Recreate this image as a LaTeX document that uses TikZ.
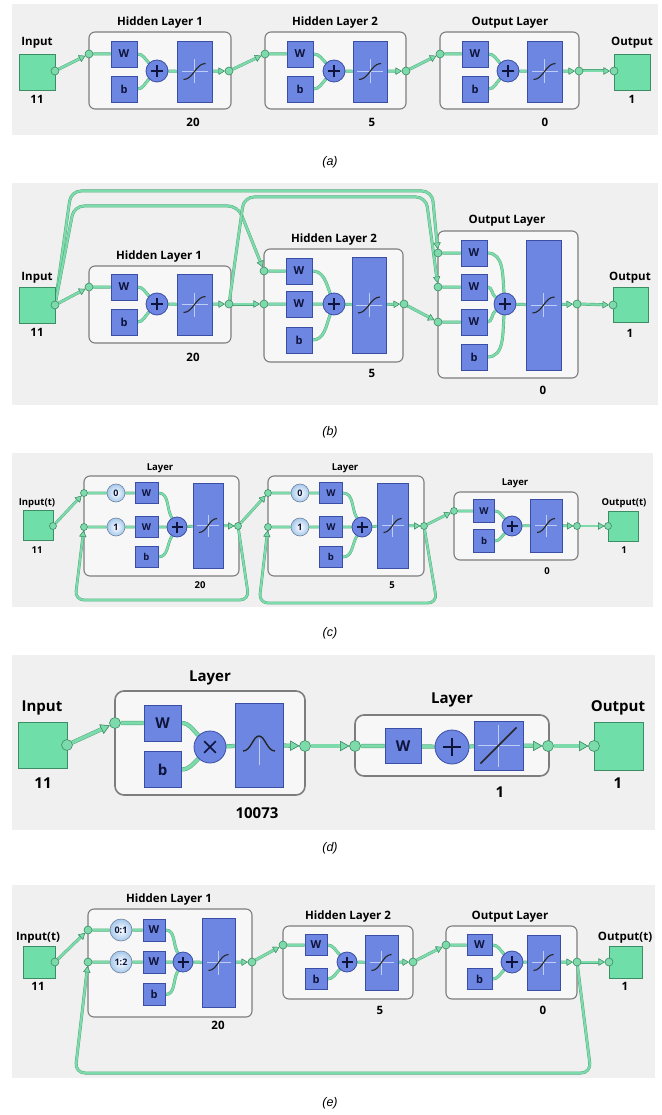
\documentclass[tikz,border=0pt]{standalone}
\usepackage{fontspec}
\setmainfont{Open Sans}
\newfontfamily\capfont{Liberation Sans}
\usetikzlibrary{arrows.meta,calc}
\pgfdeclarelayer{bgl}\pgfdeclarelayer{wirel}
\pgfsetlayers{bgl,wirel,main}
\definecolor{bgc}{RGB}{240,240,240}
\definecolor{lfill}{RGB}{247,247,247}
\definecolor{ldraw}{RGB}{125,125,125}
\definecolor{mint}{RGB}{125,218,170}
\definecolor{mintln}{RGB}{80,170,125}
\definecolor{mintdk}{RGB}{60,140,100}
\definecolor{iofill}{RGB}{112,222,168}
\definecolor{bfill}{RGB}{108,134,226}
\definecolor{bdark}{RGB}{58,78,165}
\definecolor{navy}{RGB}{15,20,60}
\definecolor{dlyc}{RGB}{165,200,235}
\definecolor{dlydk}{RGB}{110,130,160}
\definecolor{crossc}{RGB}{190,205,245}
\newcommand\mport[2]{\node[port] (#1) at (#2) {};}
\newcommand\mio[4]{\node[iosq, minimum width=#3, minimum height=#4] (#1) at (#2) {};}
\newcommand\mlb[3]{\node[lbl] (#1) at (#2) {#3};}
\newcommand\mwb[5]{\node[bb, minimum width=#3, minimum height=#4] (#1) at (#2) {#5};}
\newcommand\msum[3]{\node[sumc, minimum size=2*#3] (#1) at (#2) {};\draw[plusl] ([xshift=-0.55*#3]#1.center) -- ([xshift=0.55*#3]#1.center) ([yshift=-0.55*#3]#1.center) -- ([yshift=0.55*#3]#1.center);}
\newcommand\mprod[3]{\node[sumc, minimum size=2*#3] (#1) at (#2) {};\draw[plusl] ([xshift=-0.36*#3,yshift=-0.36*#3]#1.center) -- ([xshift=0.36*#3,yshift=0.36*#3]#1.center) ([xshift=-0.36*#3,yshift=0.36*#3]#1.center) -- ([xshift=0.36*#3,yshift=-0.36*#3]#1.center);}
\newcommand\mtf[5]{\node[bb, minimum width=#3, minimum height=#4] (#1) at (#2) {};\begin{scope}[shift={(#1.center)}]#5\end{scope}}
\newcommand\mcross[2]{\draw[cross] (-#1,0) -- (#1,0) (0,-#2) -- (0,#2);}
\newcommand\msig[2]{\draw[curv] (-#1,#2) .. controls (-0.1*#1,#2) and (0.1*#1,-#2) .. (#1,-#2);}
\newcommand\mdly[4]{\node[dly, minimum size=2*#3] (#1) at (#2) {#4};}
\begin{document}
\begin{tikzpicture}[x=1pt,y=-1pt,
 lbox/.style={draw=ldraw, fill=lfill, line width=1.1pt, rounded corners=6pt, inner sep=0pt},
 bb/.style={draw=bdark, fill=bfill, line width=0.7pt, inner sep=0pt, text=navy, font=\bfseries\fontsize{11}{11}\selectfont},
 sumc/.style={circle, draw=bdark, fill=bfill, line width=0.8pt, inner sep=0pt},
 plusl/.style={draw=navy, line width=1.1pt},
 port/.style={circle, draw=mintdk, fill=mint, line width=0.6pt, inner sep=0pt, minimum size=8pt},
 iosq/.style={draw=mintdk, fill=iofill, line width=0.7pt, inner sep=0pt},
 wire/.style={draw=mint, line width=2.2pt, preaction={draw=mintln, line width=3pt}},
 arr/.style={-{Triangle[length=6pt,width=7pt,fill=mint,color=mintdk,line width=0.4pt]}},
 lbl/.style={inner sep=0pt, font=\bfseries\fontsize{11.5}{13}\selectfont},
 dly/.style={circle, draw=dlydk, inner color=white, outer color=dlyc, line width=0.6pt, inner sep=0pt, font=\bfseries\fontsize{9}{9}\selectfont, text=navy},
 cross/.style={draw=crossc, line width=0.6pt},
 curv/.style={draw=black!85, line width=1.1pt},
 captxt/.style={inner sep=0pt, font=\capfont\itshape\fontsize{12.5}{14}\selectfont}]
\begin{pgfonlayer}{bgl}
\fill[white] (0,0) rectangle (661,1115);
\end{pgfonlayer}
\useasboundingbox (0,0) rectangle (661,1115);

% ================= (a)
\begin{pgfonlayer}{bgl}
\fill[bgc] (12,4) rectangle (658,135);
\node[lbox, minimum width=142, minimum height=77] (aL1) at (160,70.5) {};
\node[lbox, minimum width=141, minimum height=77] (aL2) at (335.5,70.5) {};
\node[lbox, minimum width=139, minimum height=77] (aL3) at (509.5,70.5) {};
\end{pgfonlayer}
\mio{aIn}{37,72}{36}{36}
\mport{aInO}{55,71}
\mlb{aInL}{37,43}{Input}\mlb{aInN}{37,99}{11}
\mlb{aL1T}{160,23}{Hidden Layer 1}\mlb{aL1N}{193,122}{20}
\mport{aL1i}{89,54}
\mwb{aL1W}{124,54}{26}{26}{W}\mwb{aL1b}{124,89}{26}{26}{b}
\msum{aL1s}{157,71}{11}
\mtf{aL1t}{194.5,71.5}{35}{61}{\mcross{13}{12}\msig{11}{8}}
\mport{aL1o}{229,71}
\mlb{aL2T}{335,23}{Hidden Layer 2}\mlb{aL2N}{372,122}{5}
\mport{aL2i}{265,54}
\mwb{aL2W}{300,54}{26}{26}{W}\mwb{aL2b}{300,89}{26}{26}{b}
\msum{aL2s}{334,71}{11}
\mtf{aL2t}{370,71.5}{34}{61}{\mcross{13}{12}\msig{11}{8}}
\mport{aL2o}{406,71}
\mlb{aL3T}{510,23}{Output Layer}\mlb{aL3N}{545,122}{0}
\mport{aL3i}{440,54}
\mwb{aL3W}{475,54}{26}{26}{W}\mwb{aL3b}{475,89}{26}{26}{b}
\msum{aL3s}{508,71}{11}
\mtf{aL3t}{544.5,71.5}{35}{61}{\mcross{13}{12}\msig{11}{8}}
\mport{aL3o}{579,71}
\mio{aOut}{632,72}{36}{36}
\mport{aOutI}{614,71}
\mlb{aOutL}{632,43}{Output}\mlb{aOutN}{632,99}{1}
\begin{pgfonlayer}{wirel}
\draw[wire,arr] (aInO) -- (aL1i);
\draw[wire] (aL1i) -- (aL1W) (aL1W.east) to[out=0,in=135] (aL1s) (aL1b.east) to[out=0,in=-135] (aL1s) (aL1s) -- (aL1t);
\draw[wire,arr] (aL1t) -- (aL1o);
\draw[wire,arr] (aL1o) -- (aL2i);
\draw[wire] (aL2i) -- (aL2W) (aL2W.east) to[out=0,in=135] (aL2s) (aL2b.east) to[out=0,in=-135] (aL2s) (aL2s) -- (aL2t);
\draw[wire,arr] (aL2t) -- (aL2o);
\draw[wire,arr] (aL2o) -- (aL3i);
\draw[wire] (aL3i) -- (aL3W) (aL3W.east) to[out=0,in=135] (aL3s) (aL3b.east) to[out=0,in=-135] (aL3s) (aL3s) -- (aL3t);
\draw[wire,arr] (aL3t) -- (aL3o);
\draw[wire,arr] (aL3o) -- (aOutI);
\end{pgfonlayer}
\node[captxt] (capa) at (330,162) {(a)};

% ================= (b)
\begin{pgfonlayer}{bgl}
\fill[bgc] (12,183) rectangle (658,405);
\node[lbox, minimum width=142, minimum height=77] (bL1) at (160,304.5) {};
\node[lbox, minimum width=139, minimum height=113] (bL2) at (333.5,305.5) {};
\node[lbox, minimum width=140, minimum height=147] (bL3) at (508,304.5) {};
\end{pgfonlayer}
\mio{bIn}{37,305}{36}{36}
\mport{bInO}{55,305}
\mlb{bInL}{37,278}{Input}\mlb{bInN}{37,332}{11}
\mlb{bL1T}{159,257}{Hidden Layer 1}\mlb{bL1N}{193,357}{20}
\mport{bL1i}{89,287}
\mwb{bL1W}{124,287}{26}{26}{W}\mwb{bL1b}{124,322}{26}{26}{b}
\msum{bL1s}{157,304}{11}
\mtf{bL1t}{194.5,304.5}{35}{61}{\mcross{13}{12}\msig{11}{8}}
\mport{bL1o}{229,304}
\mlb{bL2T}{334,240}{Hidden Layer 2}\mlb{bL2N}{372,373}{5}
\mport{bL2i1}{264,271}\mport{bL2i2}{264,304}
\mwb{bL2W1}{299,271}{26}{26}{W}\mwb{bL2W2}{299,304}{26}{26}{W}\mwb{bL2b}{299,340}{26}{26}{b}
\msum{bL2s}{334,304}{11}
\mtf{bL2t}{369,305}{34}{96}{\mcross{13}{12}\msig{11}{8}}
\mport{bL2o}{404,304}
\mlb{bL3T}{507,221}{Output Layer}\mlb{bL3N}{543,390}{0}
\mport{bL3i1}{438,253}\mport{bL3i2}{438,287}\mport{bL3i3}{438,322}
\mwb{bL3W1}{474,253}{26}{26}{W}\mwb{bL3W2}{474,287}{26}{26}{W}\mwb{bL3W3}{474,322}{26}{26}{W}\mwb{bL3b}{474,357}{26}{26}{b}
\msum{bL3s}{505,304}{11}
\mtf{bL3t}{543.5,305}{35}{130}{\mcross{13}{12}\msig{11}{8}}
\mport{bL3o}{577,304}
\mio{bOut}{630.5,305}{35}{35}
\mport{bOutI}{613,305}
\mlb{bOutL}{630,278}{Output}\mlb{bOutN}{630,333}{1}
\begin{pgfonlayer}{wirel}
\draw[wire,arr] (bInO) -- (bL1i);
\draw[wire] (bL1i) -- (bL1W) (bL1W.east) to[out=0,in=135] (bL1s) (bL1b.east) to[out=0,in=-135] (bL1s) (bL1s) -- (bL1t);
\draw[wire,arr] (bL1t) -- (bL1o);
\draw[wire,arr] (bL1o) -- (bL2i2);
\draw[wire] (bL2i1) -- (bL2W1) (bL2i2) -- (bL2W2) (bL2W1.east) to[out=0,in=110] (bL2s) (bL2W2) -- (bL2s) (bL2b.east) to[out=0,in=-110] (bL2s) (bL2s) -- (bL2t);
\draw[wire,arr] (bL2t) -- (bL2o);
\draw[wire,arr] (bL2o) -- (bL3i3);
\draw[wire] (bL3i1) -- (bL3W1) (bL3i2) -- (bL3W2) (bL3i3) -- (bL3W3)
 (bL3W1.east) to[out=0,in=95] (bL3s) (bL3W2.east) to[out=0,in=145] (bL3s)
 (bL3W3.east) to[out=0,in=-145] (bL3s) (bL3b.east) to[out=0,in=-95] (bL3s) (bL3s) -- (bL3t);
\draw[wire,arr] (bL3t) -- (bL3o);
\draw[wire,arr] (bL3o) -- (bOutI);
\draw[wire,arr,rounded corners=10pt] (bInO) -- (71,191) -- (432,191) -- (bL3i1);
\draw[wire,arr,rounded corners=10pt] (bInO) -- (74,206) -- (238,206) -- (bL2i1);
\draw[wire,arr,rounded corners=10pt] (bL1o) -- (244,197) -- (426,197) -- (bL3i2);
\end{pgfonlayer}
\node[captxt] (capb) at (330,432) {(b)};

% ================= (c)
\begin{scope}[lbl/.style={inner sep=0pt, font=\bfseries\fontsize{9.5}{11}\selectfont},
 bb/.append style={font=\bfseries\fontsize{9.5}{9.5}\selectfont},
 port/.append style={minimum size=7pt},
 wire/.style={draw=mint, line width=2pt, preaction={draw=mintln, line width=2.8pt}},
 plusl/.append style={line width=1.1pt}]
\begin{pgfonlayer}{bgl}
\fill[bgc] (12,453) rectangle (653,607);
\node[lbox, minimum width=155, minimum height=100] (cL1) at (161.5,526) {};
\node[lbox, minimum width=156, minimum height=100] (cL2) at (346,526) {};
\node[lbox, minimum width=124, minimum height=68] (cL3) at (516,526) {};
\end{pgfonlayer}
\mio{cIn}{38,525.5}{30}{30}
\mport{cInO}{53,526}
\mlb{cInL}{37,503}{Input(t)}\mlb{cInN}{37,550}{11}
\mlb{cL1T}{160,468}{Layer}\mlb{cL1N}{200,585}{20}
\mport{cL1i1}{84,493}\mport{cL1i2}{84,527}
\mdly{cL1d1}{116,493}{9}{0}\mdly{cL1d2}{116,527}{9}{1}
\mwb{cL1W1}{146.5,493}{23}{21}{W}\mwb{cL1W2}{146.5,527}{23}{21}{W}\mwb{cL1b}{146.5,557}{23}{21}{b}
\msum{cL1s}{177,527}{10}
\mtf{cL1t}{208,525.5}{30}{85}{\mcross{11}{11}\msig{9}{7}}
\mport{cL1o}{238,526}
\mlb{cL2T}{345,468}{Layer}\mlb{cL2N}{392,585}{5}
\mport{cL2i1}{268,493}\mport{cL2i2}{268,527}
\mdly{cL2d1}{300,493}{9}{0}\mdly{cL2d2}{300,527}{9}{1}
\mwb{cL2W1}{331,493}{23}{21}{W}\mwb{cL2W2}{331,527}{23}{21}{W}\mwb{cL2b}{331,557}{23}{21}{b}
\msum{cL2s}{362,527}{10}
\mtf{cL2t}{392.5,525.5}{31}{85}{\mcross{11}{11}\msig{9}{7}}
\mport{cL2o}{424,526}
\mlb{cL3T}{515,483}{Layer}\mlb{cL3N}{547,571}{0}
\mport{cL3i}{454,511}
\mwb{cL3W}{484,511}{21}{23}{W}\mwb{cL3b}{484,541}{21}{23}{b}
\msum{cL3s}{512,526}{10}
\mtf{cL3t}{546,525.5}{32}{53}{\mcross{11}{11}\msig{9}{7}}
\mport{cL3o}{577,526}
\mio{cOut}{623.5,526.5}{30}{30}
\mport{cOutI}{608,526}
\mlb{cOutL}{624,503}{Output(t)}\mlb{cOutN}{624,550}{1}
\begin{pgfonlayer}{wirel}
\draw[wire,arr] (cInO) -- (cL1i1);
\draw[wire] (cL1i1) -- (cL1d1) -- (cL1W1) (cL1i2) -- (cL1d2) -- (cL1W2) (cL1W1.east) to[out=0,in=120] (cL1s) (cL1W2) -- (cL1s) (cL1b.east) to[out=0,in=-120] (cL1s) (cL1s) -- (cL1t);
\draw[wire,arr] (cL1t) -- (cL1o);
\draw[wire,arr,rounded corners=9pt] (cL1o) -- (249,600) -- (75,600) -- (cL1i2);
\draw[wire,arr] (cL1o) -- (cL2i1);
\draw[wire] (cL2i1) -- (cL2d1) -- (cL2W1) (cL2i2) -- (cL2d2) -- (cL2W2) (cL2W1.east) to[out=0,in=120] (cL2s) (cL2W2) -- (cL2s) (cL2b.east) to[out=0,in=-120] (cL2s) (cL2s) -- (cL2t);
\draw[wire,arr] (cL2t) -- (cL2o);
\draw[wire,arr,rounded corners=9pt] (cL2o) -- (437,603) -- (259,603) -- (cL2i2);
\draw[wire,arr] (cL2o) -- (cL3i);
\draw[wire] (cL3i) -- (cL3W) (cL3W.east) to[out=0,in=135] (cL3s) (cL3b.east) to[out=0,in=-135] (cL3s) (cL3s) -- (cL3t);
\draw[wire,arr] (cL3t) -- (cL3o);
\draw[wire,arr] (cL3o) -- (cOutI);
\end{pgfonlayer}
\end{scope}
\node[captxt] (capc) at (330,633) {(c)};

% ================= (d)
\begin{scope}[lbl/.style={inner sep=0pt, font=\bfseries\fontsize{15}{17}\selectfont},
 bb/.append style={font=\bfseries\fontsize{15}{15}\selectfont},
 port/.append style={minimum size=11pt},
 wire/.style={draw=mint, line width=3.2pt, preaction={draw=mintln, line width=4.2pt}},
 arr/.style={-{Triangle[length=9pt,width=10pt,fill=mint,color=mintdk,line width=0.5pt]}},
 plusl/.append style={line width=1.7pt}, curv/.append style={line width=1.4pt}]
\begin{pgfonlayer}{bgl}
\fill[bgc] (12,655) rectangle (655,830);
\node[lbox, minimum width=190, minimum height=104, line width=1.6pt, rounded corners=9pt] (dL1) at (210,743) {};
\node[lbox, minimum width=194, minimum height=61, line width=1.6pt, rounded corners=9pt] (dL2) at (452,745.5) {};
\end{pgfonlayer}
\mio{dIn}{42.5,745}{49}{46}
\mport{dInO}{67,745}
\mlb{dInL}{42,708}{Input}\mlb{dInN}{43,783}{11}
\mlb{dL1T}{210,678}{Layer}\mlb{dL1N}{257,813}{10073}
\mport{dL1i}{115,723}
\mwb{dL1W}{162.5,723}{37}{36}{W}\mwb{dL1b}{162.5,769.5}{37}{36}{b}
\mprod{dL1s}{210,747}{16}
\mtf{dL1t}{259,745}{48}{84}{\draw[cross] (0,-6) -- (0,20);\draw[curv] (-16,6) .. controls (-8,6) and (-6,-9) .. (0,-9) .. controls (6,-9) and (8,6) .. (16,6);}
\mport{dL1o}{305,746}
\mlb{dL2T}{452,700}{Layer}\mlb{dL2N}{500,792}{1}
\mport{dL2i}{355,746}
\mwb{dL2W}{403,746}{36}{35}{W}
\msum{dL2s}{452,747}{17}
\mtf{dL2t}{498.5,745.5}{49}{49}{\mcross{21}{21}\draw[curv,line width=1.5pt] (-18,18) -- (18,-18);}
\mport{dL2o}{548,746}
\mio{dOut}{618.5,746}{49}{48}
\mport{dOutI}{594,746}
\mlb{dOutL}{618,708}{Output}\mlb{dOutN}{618,783}{1}
\begin{pgfonlayer}{wirel}
\draw[wire,arr] (dInO) -- (dL1i);
\draw[wire] (dL1i) -- (dL1W) (dL1W.east) to[out=0,in=135] (dL1s) (dL1b.east) to[out=0,in=-135] (dL1s) (dL1s) -- (dL1t);
\draw[wire,arr] (dL1t) -- (dL1o);
\draw[wire,arr] (dL1o) -- (dL2i);
\draw[wire] (dL2i) -- (dL2W) -- (dL2s) -- (dL2t);
\draw[wire,arr] (dL2t) -- (dL2o);
\draw[wire,arr] (dL2o) -- (dOutI);
\end{pgfonlayer}
\end{scope}
\node[captxt] (capd) at (330,848) {(d)};

% ================= (e)
\begin{pgfonlayer}{bgl}
\fill[bgc] (12,885) rectangle (655,1078);
\node[lbox, minimum width=164, minimum height=108] (eL1) at (170,963) {};
\node[lbox, minimum width=130, minimum height=73] (eL2) at (348,962.5) {};
\node[lbox, minimum width=131, minimum height=73] (eL3) at (511.5,962.5) {};
\end{pgfonlayer}
\mio{eIn}{39,962}{32}{32}
\mport{eInO}{55,962}
\mlb{eInL}{38,938}{Input(t)}\mlb{eInN}{38,986}{11}
\mlb{eL1T}{169,900}{Hidden Layer 1}\mlb{eL1N}{218,1025}{20}
\mport{eL1i1}{88,930}\mport{eL1i2}{88,962}
\mdly{eL1d1}{121,930}{11}{0:1}\mdly{eL1d2}{121,962}{11}{1:2}
\mwb{eL1W1}{154,930}{22}{22}{W}\mwb{eL1W2}{154,962}{22}{22}{W}\mwb{eL1b}{154,994.5}{22}{22}{b}
\msum{eL1s}{183,962}{10}
\mtf{eL1t}{218.5,962.5}{33}{89}{\mcross{12}{12}\msig{10}{8}}
\mport{eL1o}{252,962}
\mlb{eL2T}{348,917}{Hidden Layer 2}\mlb{eL2N}{380,1010}{5}
\mport{eL2i}{283,945}
\mwb{eL2W}{316,945}{22}{21}{W}\mwb{eL2b}{316,979}{22}{21}{b}
\msum{eL2s}{347,962}{10}
\mtf{eL2t}{381.5,962.5}{33}{55}{\mcross{12}{12}\msig{10}{8}}
\mport{eL2o}{413,962}
\mlb{eL3T}{510,917}{Output Layer}\mlb{eL3N}{543,1010}{0}
\mport{eL3i}{446,945}
\mwb{eL3W}{479.5,945}{25}{21}{W}\mwb{eL3b}{479.5,979}{25}{21}{b}
\msum{eL3s}{512,962}{11}
\mtf{eL3t}{543.5,962.5}{33}{55}{\mcross{12}{12}\msig{10}{8}}
\mport{eL3o}{577,962}
\mio{eOut}{625.5,962}{33}{32}
\mport{eOutI}{609,962}
\mlb{eOutL}{625,938}{Output(t)}\mlb{eOutN}{625,986}{1}
\begin{pgfonlayer}{wirel}
\draw[wire,arr] (eInO) -- (eL1i1);
\draw[wire] (eL1i1) -- (eL1d1) -- (eL1W1) (eL1i2) -- (eL1d2) -- (eL1W2) (eL1W1.east) to[out=0,in=120] (eL1s) (eL1W2) -- (eL1s) (eL1b.east) to[out=0,in=-120] (eL1s) (eL1s) -- (eL1t);
\draw[wire,arr] (eL1t) -- (eL1o);
\draw[wire,arr] (eL1o) -- (eL2i);
\draw[wire] (eL2i) -- (eL2W) (eL2W.east) to[out=0,in=135] (eL2s) (eL2b.east) to[out=0,in=-135] (eL2s) (eL2s) -- (eL2t);
\draw[wire,arr] (eL2t) -- (eL2o);
\draw[wire,arr] (eL2o) -- (eL3i);
\draw[wire] (eL3i) -- (eL3W) (eL3W.east) to[out=0,in=135] (eL3s) (eL3b.east) to[out=0,in=-135] (eL3s) (eL3s) -- (eL3t);
\draw[wire,arr] (eL3t) -- (eL3o);
\draw[wire,arr] (eL3o) -- (eOutI);
\draw[wire,arr,rounded corners=10pt] (eL3o) -- (591,1073) -- (75,1073) -- (eL1i2);
\end{pgfonlayer}
\node[captxt] (cape) at (330,1103) {(e)};
\end{tikzpicture}
\end{document}
